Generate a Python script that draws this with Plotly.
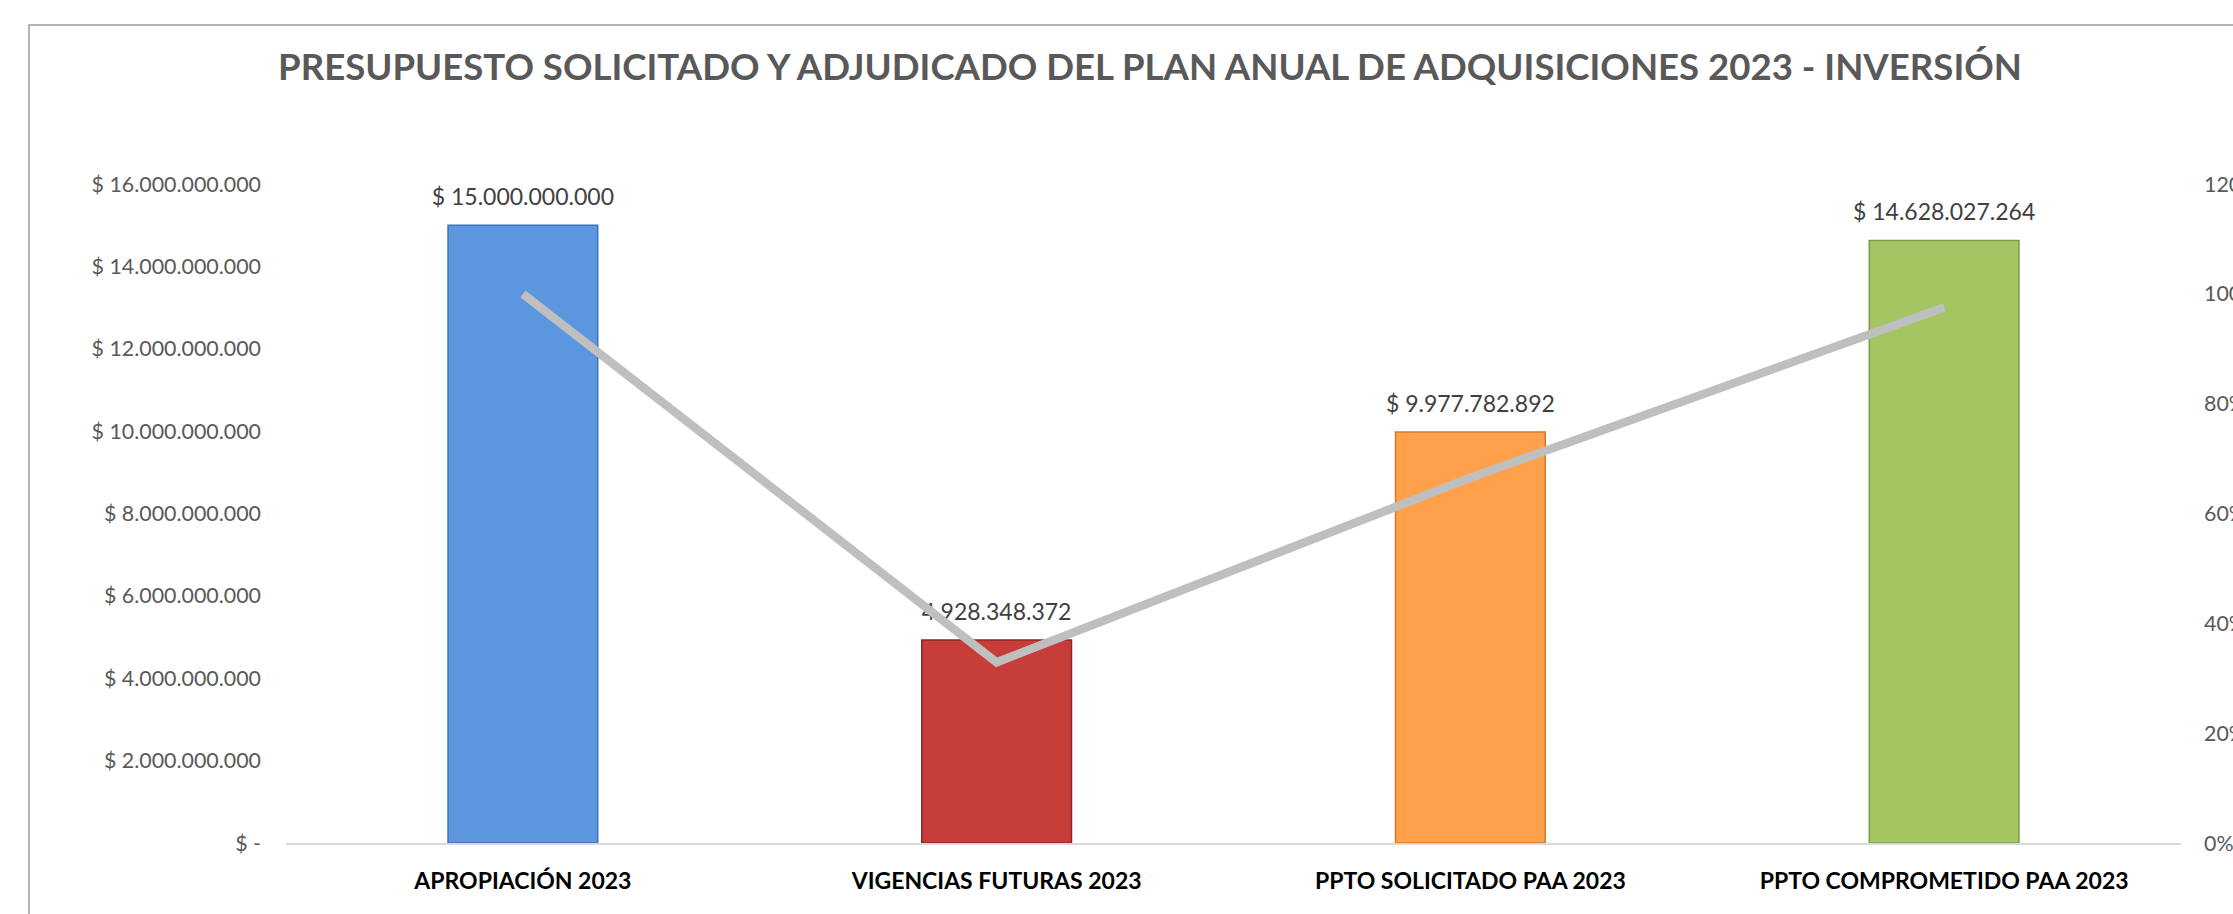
import plotly.graph_objects as go

categories = ["APROPIACIÓN 2023", "VIGENCIAS FUTURAS 2023", "PPTO SOLICITADO PAA 2023", "PPTO COMPROMETIDO PAA 2023"]
amounts = [15000000000, 4928348372, 9977782892, 14628027264]
amount_labels = ["$ 15.000.000.000", "4.928.348.372", "$ 9.977.782.892", "$ 14.628.027.264"]
pct_values = [1.00, 0.329, 0.665, 0.975]
left_tick_vals = [0, 2e9, 4e9, 6e9, 8e9, 10e9, 12e9, 14e9, 16e9]
left_tick_text = ["$ -", "$ 2.000.000.000", "$ 4.000.000.000", "$ 6.000.000.000", "$ 8.000.000.000",
                  "$ 10.000.000.000", "$ 12.000.000.000", "$ 14.000.000.000", "$ 16.000.000.000"]
right_tick_vals = [0, 0.2, 0.4, 0.6, 0.8, 1.0, 1.2]

bar_colors = ["#5B96DF", "#C63D3A", "#FFA04B", "#A5C563"]
bar_edges = ["#3F72B5", "#8E2624", "#D9782A", "#7D9C45"]

W, H = 2233, 914
L, R = 286, 2181
T, B = 184, 843

fig = go.Figure()
fig.add_trace(go.Bar(
    x=categories, y=amounts,
    marker=dict(color=bar_colors, line=dict(color=bar_edges, width=1.5)),
    width=0.316, hoverinfo="skip", showlegend=False,
))
# value labels (invisible marker pushes text a little above each bar)
fig.add_trace(go.Scatter(
    x=categories, y=amounts, mode="markers+text", text=amount_labels, textposition="top center",
    textfont=dict(family="Lato", size=23, color="#404040"),
    marker=dict(size=22, opacity=0), cliponaxis=False, hoverinfo="skip", showlegend=False,
))
fig.add_trace(go.Scatter(
    x=categories, y=pct_values, yaxis="y2", mode="lines",
    line=dict(color="#BFBFBF", width=8.5), hoverinfo="skip", showlegend=False,
))

frame_x0 = (29 - L) / (R - L)
frame_x1 = (W + 20 - L) / (R - L)
frame_y1 = (B - 25) / (B - T)
frame_y0 = (B - H - 20) / (B - T)
fig.add_shape(type="rect", xref="paper", yref="paper", x0=frame_x0, x1=frame_x1, y0=frame_y0, y1=frame_y1,
              line=dict(color="#B3B3B3", width=2), fillcolor="rgba(0,0,0,0)", layer="below")

fig.update_layout(
    width=W, height=H,
    margin=dict(l=L, r=W - R, t=T, b=H - B, pad=0, autoexpand=False),
    paper_bgcolor="white", plot_bgcolor="white",
    title=dict(text="<b>PRESUPUESTO SOLICITADO Y ADJUDICADO DEL PLAN ANUAL DE ADQUISICIONES 2023 - INVERSIÓN</b>",
               x=1150 / W, xanchor="center", y=1 - 67 / H, yanchor="middle",
               font=dict(family="Lato", size=36.6, color="#595959")),
    xaxis=dict(showline=True, linecolor="#D9D9D9", linewidth=2, showgrid=False, ticks="", automargin=False,
               tickfont=dict(family="Lato", size=23, color="#000000", weight="bold"),
               ticklabelstandoff=16),
    yaxis=dict(range=[0, 16e9], tickvals=left_tick_vals, ticktext=left_tick_text, showgrid=False,
               zeroline=False, showline=False, ticks="", automargin=False,
               tickfont=dict(family="Lato", size=21.4, color="#595959"), ticklabelstandoff=24),
    yaxis2=dict(range=[0, 1.2], tickvals=right_tick_vals, tickformat=".0%", overlaying="y", side="right",
                showgrid=False, zeroline=False, showline=False, ticks="", automargin=False,
                tickfont=dict(family="Lato", size=21.4, color="#595959"), ticklabelstandoff=22),
    showlegend=False,
)

fig.write_html("out.html")
